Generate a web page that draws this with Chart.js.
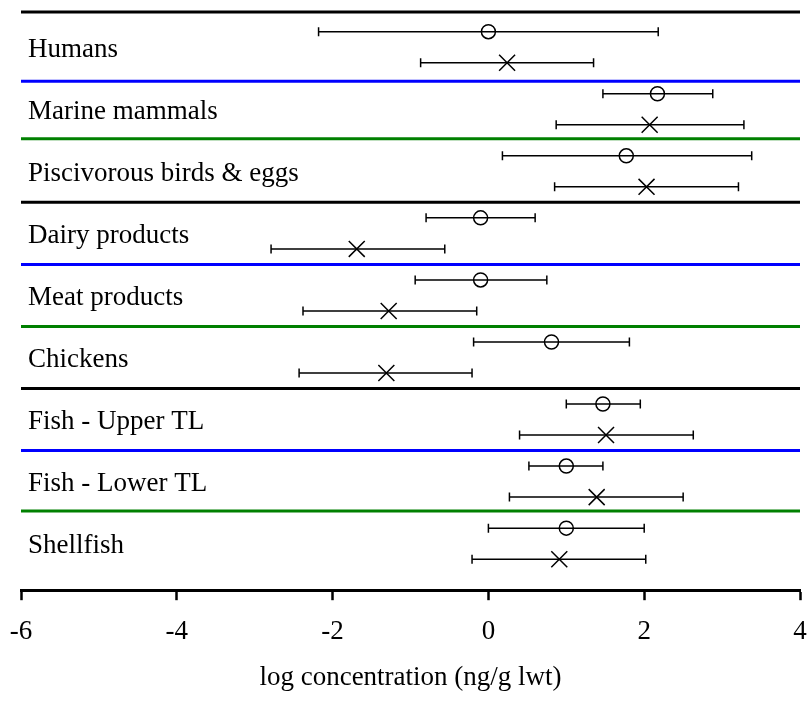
<!DOCTYPE html>
<html>
<head>
<meta charset="utf-8">
<script src="https://cdn.jsdelivr.net/npm/chart.js@4/dist/chart.umd.min.js"></script>
<style>
  html, body { margin: 0; padding: 0; background: #ffffff; }
  #wrap { width: 809px; height: 704px; }
</style>
</head>
<body>
<div id="wrap"><canvas id="chart"></canvas></div>
<script>
// Food-web groups, top to bottom
const categories = [
  'Humans', 'Marine mammals', 'Piscivorous birds & eggs',
  'Dairy products', 'Meat products', 'Chickens',
  'Fish - Upper TL', 'Fish - Lower TL', 'Shellfish'
];

// Series drawn with an open circle: central value and range
const circleMean = [0.00, 2.17, 1.77, -0.10, -0.10, 0.81, 1.47, 1.00, 1.00];
const circleLow  = [-2.18, 1.47, 0.18, -0.80, -0.94, -0.19, 1.00, 0.52, 0.00];
const circleHigh = [2.18, 2.88, 3.38, 0.60, 0.75, 1.81, 1.95, 1.47, 2.00];

// Series drawn with a cross: central value and range
const crossMean = [0.24, 2.07, 2.03, -1.69, -1.28, -1.31, 1.51, 1.39, 0.91];
const crossLow  = [-0.87, 0.87, 0.85, -2.79, -2.38, -2.43, 0.40, 0.27, -0.21];
const crossHigh = [1.35, 3.28, 3.21, -0.56, -0.15, -0.21, 2.63, 2.50, 2.02];

// Axis ticks
const xTicks = [-6, -4, -2, 0, 2, 4];

// Row boundaries (in row units) and their colours
const separatorRows = [0.365, 2.6, 4.45, 6.5, 8.5, 10.5, 12.5, 14.5, 16.45];
const separatorColors = ['#000000', '#0000ff', '#008000'];

const FONT = "'Liberation Serif', 'Times New Roman', serif";

// Each group takes two rows: circle series on the first, cross series on the second
const circleRow = i => 2 * i + 1;
const crossRow = i => 2 * i + 2;

function rangeSegments(low, high, rowOf) {
  const pts = [];
  low.forEach((lo, i) => {
    const r = rowOf(i);
    pts.push({ x: lo, y: r }, { x: high[i], y: r }, { x: high[i], y: null });
  });
  return pts;
}

const datasets = [];

datasets.push({
  label: 'circle',
  data: circleMean.map((v, i) => ({ x: v, y: circleRow(i) })),
  showLine: false,
  pointStyle: 'circle',
  pointRadius: 7,
  pointBorderWidth: 1.5,
  pointBorderColor: '#000000',
  pointBackgroundColor: 'rgba(0,0,0,0)'
});

datasets.push({
  label: 'cross',
  data: crossMean.map((v, i) => ({ x: v, y: crossRow(i) })),
  showLine: false,
  pointStyle: 'crossRot',
  pointRadius: 11.3,
  pointBorderWidth: 1.5,
  pointBorderColor: '#000000'
});

[[circleLow, circleHigh, circleRow], [crossLow, crossHigh, crossRow]].forEach(([lo, hi, rowOf]) => {
  datasets.push({
    label: 'range',
    data: rangeSegments(lo, hi, rowOf),
    showLine: true,
    spanGaps: false,
    borderColor: '#000000',
    borderWidth: 1.5,
    pointStyle: 'line',
    rotation: 90,
    pointRadius: 4.5,
    pointBorderWidth: 1.5,
    pointBorderColor: '#000000',
    pointBackgroundColor: '#000000'
  });
});

separatorRows.forEach((r, k) => {
  datasets.push({
    label: 'separator',
    data: [{ x: xTicks[0], y: r }, { x: xTicks[xTicks.length - 1], y: r }],
    showLine: true,
    borderColor: separatorColors[k % separatorColors.length],
    borderWidth: 3,
    pointRadius: 0,
    clip: false
  });
});

// Group names written at the left of each band
const groupLabels = {
  id: 'groupLabels',
  afterDatasetsDraw(chart) {
    const { ctx, chartArea, scales } = chart;
    ctx.save();
    ctx.fillStyle = '#000000';
    ctx.font = '27px ' + FONT;
    ctx.textAlign = 'left';
    ctx.textBaseline = 'alphabetic';
    categories.forEach((name, i) => {
      ctx.fillText(name, chartArea.left + 7, scales.y.getPixelForValue(2 * i + 1.8));
    });
    ctx.restore();
  }
};

new Chart(document.getElementById('chart'), {
  type: 'scatter',
  data: { datasets },
  options: {
    responsive: true,
    maintainAspectRatio: false,
    devicePixelRatio: 1,
    animation: false,
    events: [],
    layout: { autoPadding: false, padding: { left: 21, right: 9, top: 12, bottom: 0 } },
    plugins: {
      legend: { display: false },
      tooltip: { enabled: false }
    },
    scales: {
      x: {
        type: 'linear',
        position: 'bottom',
        min: xTicks[0],
        max: xTicks[xTicks.length - 1],
        afterBuildTicks(scale) { scale.ticks = xTicks.map(v => ({ value: v })); },
        // end labels may overhang the plot edges
        afterFit(scale) { scale.paddingLeft = 0; scale.paddingRight = 0; },
        ticks: {
          color: '#000000',
          padding: 16,
          maxRotation: 0,
          font: { family: FONT, size: 27 }
        },
        grid: {
          drawOnChartArea: false,
          drawTicks: true,
          tickLength: 10,
          tickWidth: 2.5,
          tickColor: '#000000'
        },
        border: { display: true, color: '#000000', width: 3 },
        title: {
          display: true,
          text: 'log concentration (ng/g lwt)',
          color: '#000000',
          font: { family: FONT, size: 27 },
          padding: { top: -3, bottom: 10 }
        }
      },
      y: {
        type: 'linear',
        display: false,
        reverse: true,
        min: 0.365,
        max: 19
      }
    }
  },
  plugins: [groupLabels]
});
</script>
</body>
</html>
